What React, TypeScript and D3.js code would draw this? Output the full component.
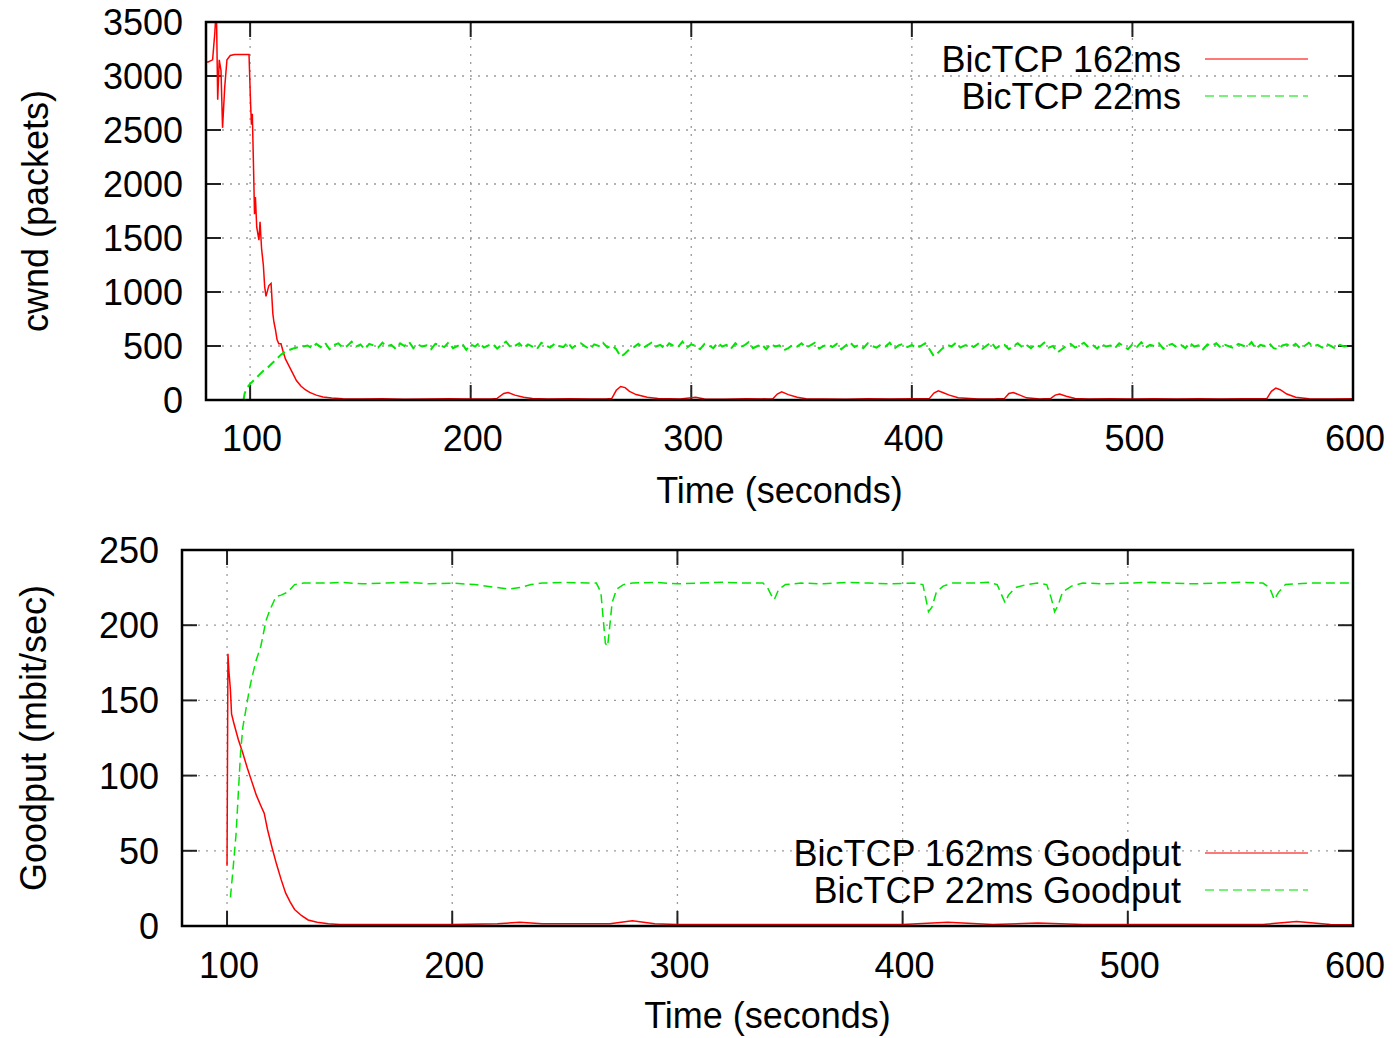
import React from 'react'
import * as d3 from 'd3'

const W = 1393
const H = 1038
const FONT = '"Liberation Sans", Arial, Helvetica, sans-serif'
const RED = '#ff0000'
const GREEN = '#00e600'

const timeTicks = [100, 200, 300, 400, 500, 600]
const cwndTicks = [0, 500, 1000, 1500, 2000, 2500, 3000, 3500]
const goodputTicks = [0, 50, 100, 150, 200, 250]

// cwnd of the 162ms flow, [seconds, packets]
const cwnd162: [number, number][] = [
  [80, 3130], [81, 3130], [82, 3140], [83, 3150], [84, 3400], [84.7, 3650], [85.3, 2780],
  [86, 3150], [86.8, 3050], [87.5, 2520], [88.5, 2900], [89.5, 3150], [91, 3190], [93, 3200],
  [95, 3200], [97, 3200], [99.5, 3200], [100.2, 2750], [100.6, 2550], [101, 2650], [101.5, 2200],
  [102, 1720], [102.4, 1880], [103, 1600], [104, 1480], [104.5, 1650], [105.2, 1400], [106, 1250],
  [106.6, 1050], [107.2, 960], [108.5, 1060], [109.5, 1080], [110.3, 800], [110.8, 720],
  [111.5, 650], [112.2, 560], [113, 520], [114, 520], [114.8, 460], [116, 380], [117.5, 320],
  [119, 260], [121, 180], [123, 130], [125, 95], [127, 70], [130, 45], [133, 28], [137, 18],
  [142, 12], [150, 10], [160, 12], [170, 8], [180, 10], [190, 12], [200, 9], [210, 12],
  [212, 15], [215, 60], [217, 70], [220, 45], [224, 25], [228, 15], [235, 10], [245, 12],
  [255, 9], [262, 12], [264, 15], [266, 90], [268, 125], [270, 115], [272, 80], [275, 50],
  [280, 25], [285, 15], [295, 10], [302, 25], [306, 10], [315, 8], [325, 12], [335, 10],
  [337, 12], [339, 55], [341, 75], [344, 50], [348, 25], [352, 12], [360, 10], [370, 8],
  [380, 12], [390, 9], [400, 11], [408, 15], [410, 65], [412, 85], [414, 70], [417, 45],
  [421, 20], [430, 10], [438, 12], [442, 15], [444, 60], [446, 70], [449, 45], [452, 20],
  [458, 10], [463, 15], [465, 45], [467, 55], [470, 35], [474, 15], [480, 10], [490, 12],
  [500, 9], [510, 11], [520, 10], [530, 12], [540, 9], [550, 11], [561, 15], [563, 80],
  [565, 110], [567, 95], [570, 55], [574, 25], [580, 12], [590, 10], [600, 12],
]

// cwnd of the 22ms flow: slow start, then one sample every 2 s from 126 s
const cwnd22Start: [number, number][] = [
  [97, 0], [97.5, 60], [98.5, 110], [100, 150], [102, 190], [104, 230], [106, 270], [108, 300],
  [110, 340], [112, 380], [114, 420], [116, 450], [118, 465], [120, 480], [122, 490], [124, 495],
]
const cwnd22From = 126
const cwnd22Step = 2
const cwnd22Steady = [
  505, 480, 520, 490, 530, 470, 510, 525, 485, 500,
  540, 495, 515, 470, 520, 505, 485, 530, 495, 510,
  475, 525, 500, 540, 480, 515, 495, 505, 470, 520,
  510, 490, 535, 480, 500, 525, 465, 515, 495, 530,
  485, 505, 520, 475, 510, 540, 490, 500, 525, 480,
  515, 495, 470, 530, 505, 485, 520, 500, 490, 535,
  480, 510, 525, 495, 470, 515, 500, 530, 485, 505,
  470, 400, 430, 470, 490, 520, 480, 505, 530, 495,
  510, 475, 525, 500, 490, 540, 485, 515, 500, 470,
  520, 505, 480, 530, 495, 510, 475, 525, 490, 505,
  535, 480, 500, 515, 470, 520, 495, 505, 460, 480,
  510, 495, 525, 485, 505, 530, 475, 500, 515, 490,
  520, 470, 505, 535, 490, 510, 480, 525, 500, 485,
  515, 495, 530, 475, 505, 520, 490, 510, 480, 500,
  525, 470, 405, 440, 480, 510, 495, 530, 485, 505,
  515, 490, 520, 475, 505, 535, 480, 500, 510, 470,
  500, 525, 490, 510, 480, 515, 495, 530, 485, 500,
  440, 470, 500, 520, 485, 505, 530, 490, 510, 475,
  520, 495, 505, 480, 525, 500, 470, 515, 490, 535,
  485, 510, 500, 525, 475, 505, 520, 490, 510, 480,
  530, 495, 505, 470, 515, 500, 525, 485, 510, 495,
  480, 520, 505, 490, 535, 475, 510, 500, 525, 480,
  470, 505, 515, 490, 520, 480, 500, 530, 495, 510,
  485, 520, 500, 475, 510, 495, 505, 500,
]

// goodput, [seconds, mbit/sec]
const goodput162: [number, number][] = [
  [100, 40], [100.4, 181], [100.8, 170], [101.5, 157], [102, 141], [103, 135], [105, 124],
  [107, 115], [109, 105], [111, 96], [113, 87], [115, 80], [116.5, 75], [118, 64], [120, 52],
  [122, 41], [124, 31], [126, 22], [128, 16], [130, 11], [133, 7], [136, 4], [140, 2.5],
  [145, 1.5], [150, 1], [200, 1], [220, 1.5], [230, 2.5], [240, 1.5], [270, 1.5], [280, 3.5],
  [290, 1.5], [300, 1], [400, 1], [420, 2.5], [440, 1], [460, 2], [480, 1], [560, 1],
  [575, 3], [590, 1], [600, 0.8],
]

const goodput22: [number, number][] = [
  [101.5, 19], [102.5, 35], [104, 61], [105, 88], [106, 115], [107, 132], [108.5, 145],
  [110, 158], [111.5, 168], [113, 177], [115, 186], [117.3, 203], [119, 210], [121.7, 219],
  [124, 220], [127, 222], [130, 227], [134, 228], [140, 228], [145, 228], [150, 228.5],
  [160, 227.5], [170, 228], [180, 228.5], [190, 227.5], [200, 228], [210, 227], [220, 225],
  [225, 224], [230, 225], [235, 227], [240, 228], [250, 228.5], [260, 228], [264, 228],
  [266, 222], [267, 205], [268, 188], [269, 186], [270, 200], [271, 215], [273, 224],
  [276, 227], [280, 228], [290, 228.5], [300, 227.5], [310, 228], [320, 228.5], [330, 228],
  [338, 228], [340, 225], [342, 219], [343, 217], [345, 224], [348, 227], [355, 228],
  [365, 227.5], [375, 228.5], [385, 228], [395, 227.5], [405, 228], [409, 227], [410, 220],
  [411.5, 209], [413, 212], [415, 222], [418, 226], [422, 228], [430, 228], [438, 228.5],
  [442, 227], [444, 220], [445.5, 215], [447, 220], [450, 225], [455, 227], [460, 228],
  [464, 227], [466, 218], [467.5, 209], [469, 213], [471, 222], [475, 226], [480, 228],
  [490, 227.5], [500, 228], [510, 228.5], [520, 228], [530, 227.5], [540, 228], [550, 228.5],
  [560, 228], [563, 225], [565, 217], [567, 222], [570, 227], [580, 228], [590, 228],
  [600, 228],
]

const cwnd22: [number, number][] = cwnd22Start.concat(
  cwnd22Steady.map((v, i) => [cwnd22From + i * cwnd22Step, v] as [number, number])
)

const Panel = ({ id, box, yDomain, yTicks, yLabel, yLabelX, xLabelY, tickLabelY, series, legendY }) => {
  const x = d3.scaleLinear().domain([80, 600]).range([box.left, box.right])
  const y = d3.scaleLinear().domain(yDomain).range([box.bottom, box.top])
  const path = d3.line<[number, number]>().x(d => x(d[0])).y(d => y(d[1]))
  const midY = (box.top + box.bottom) / 2
  const midX = (box.left + box.right) / 2
  const tickLen = 15

  return (
    <g>
      <defs>
        <clipPath id={id}>
          <rect x={box.left} y={box.top} width={box.right - box.left} height={box.bottom - box.top} />
        </clipPath>
      </defs>

      {/* grid */}
      <g stroke="#9a9a9a" strokeWidth={1.3} strokeDasharray="2,6">
        {timeTicks.slice(0, -1).map(t => (
          <line key={t} x1={x(t)} x2={x(t)} y1={box.top} y2={box.bottom} />
        ))}
        {yTicks.slice(1, -1).map(t => (
          <line key={t} x1={box.left} x2={box.right} y1={y(t)} y2={y(t)} />
        ))}
      </g>

      {/* ticks on all four sides */}
      <g stroke="#222" strokeWidth={2}>
        {timeTicks.map(t => (
          <g key={t}>
            <line x1={x(t)} x2={x(t)} y1={box.bottom} y2={box.bottom - tickLen} />
            <line x1={x(t)} x2={x(t)} y1={box.top} y2={box.top + tickLen} />
          </g>
        ))}
        {yTicks.map(t => (
          <g key={t}>
            <line x1={box.left} x2={box.left + tickLen} y1={y(t)} y2={y(t)} />
            <line x1={box.right} x2={box.right - tickLen} y1={y(t)} y2={y(t)} />
          </g>
        ))}
      </g>

      {/* data */}
      <g clipPath={`url(#${id})`} fill="none">
        {series.map(s => (
          <path key={s.name} d={path(s.data)} stroke={s.color} strokeWidth={s.width}
            strokeDasharray={s.dashed ? '9,5' : null} />
        ))}
      </g>

      <rect x={box.left} y={box.top} width={box.right - box.left} height={box.bottom - box.top}
        fill="none" stroke="#000" strokeWidth={2.5} />

      {/* tick labels */}
      <g fontFamily={FONT} fontSize={36} fill="#000">
        {timeTicks.map(t => (
          <text key={t} x={x(t) + 2} y={tickLabelY} textAnchor="middle">{t}</text>
        ))}
        {yTicks.map(t => (
          <text key={t} x={box.left - 23} y={y(t)} dy="0.36em" textAnchor="end">{t}</text>
        ))}
        <text x={midX} y={xLabelY} textAnchor="middle">Time (seconds)</text>
        <text transform={`translate(${yLabelX},${midY}) rotate(-90)`} textAnchor="middle" dy="0.36em">
          {yLabel}
        </text>
      </g>

      {/* legend */}
      <g fontFamily={FONT} fontSize={36}>
        {series.map((s, i) => {
          const ly = legendY + i * 37
          return (
            <g key={s.name}>
              <text x={1181} y={ly} dy="0.36em" textAnchor="end">{s.name}</text>
              <line x1={1205} x2={1308} y1={ly} y2={ly} stroke={s.color} strokeWidth={1.6}
                opacity={0.7} strokeDasharray={s.dashed ? '9,5' : null} />
            </g>
          )
        })}
      </g>
    </g>
  )
}

export default function App() {
  return (
    <svg width={W} height={H} viewBox={`0 0 ${W} ${H}`}
      style={{ position: 'absolute', left: 0, top: 0, background: '#fff' }}>
      <Panel
        id="clip-cwnd"
        box={{ left: 206, right: 1353, top: 22, bottom: 400 }}
        yDomain={[0, 3500]}
        yTicks={cwndTicks}
        yLabel="cwnd (packets)"
        yLabelX={35}
        xLabelY={503}
        tickLabelY={451}
        legendY={59}
        series={[
          { name: 'BicTCP 162ms', data: cwnd162, color: RED, dashed: false, width: 1.5 },
          { name: 'BicTCP 22ms', data: cwnd22, color: GREEN, dashed: true, width: 2 },
        ]}
      />
      <Panel
        id="clip-goodput"
        box={{ left: 182, right: 1353, top: 550, bottom: 926 }}
        yDomain={[0, 250]}
        yTicks={goodputTicks}
        yLabel="Goodput (mbit/sec)"
        yLabelX={33}
        xLabelY={1028}
        tickLabelY={978}
        legendY={853}
        series={[
          { name: 'BicTCP 162ms Goodput', data: goodput162, color: RED, dashed: false, width: 1.5 },
          { name: 'BicTCP 22ms Goodput', data: goodput22, color: GREEN, dashed: true, width: 1.5 },
        ]}
      />
    </svg>
  )
}
